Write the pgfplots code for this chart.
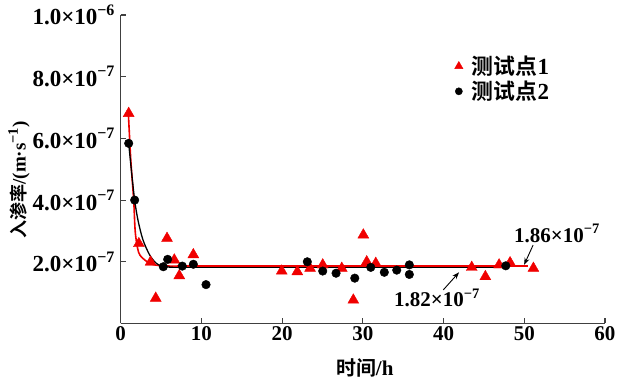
\documentclass[border=0pt]{standalone}
\usepackage{fontspec}
\setmainfont{Liberation Serif}
\newfontfamily\cjk{Noto Sans CJK SC}[BoldFont={Noto Sans CJK SC Bold},Scale=0.95]
\usepackage{pgfplots}
\pgfplotsset{compat=1.18}
\usetikzlibrary{arrows.meta}
\definecolor{axgray}{RGB}{64,64,64}
\definecolor{myred}{RGB}{240,0,0}
\newcommand{\bigf}{\fontsize{21}{25}\selectfont\bfseries}
\newcommand{\legf}{\fontsize{23}{27}\selectfont\bfseries}
\newcommand{\ytf}{\fontsize{23}{27}\selectfont\bfseries}
\newcommand{\labf}{\fontsize{19}{23}\selectfont\bfseries}
\newcommand{\sups}[1]{\raisebox{0.42em}{\fontsize{14.5}{15}\selectfont\bfseries #1}}
\newcommand{\ysups}[1]{\raisebox{0.42em}{\fontsize{16}{17}\selectfont\bfseries #1}}
\newcommand{\yl}[2]{#1×10\ysups{−#2}}
\begin{document}
\begin{tikzpicture}
\useasboundingbox (-120.7pt,-61.5pt) rectangle (501.3pt,323.5pt);
\begin{axis}[
  at={(0,0)}, anchor=south west, scale only axis,
  width=484.3pt, height=308.5pt,
  xmin=0, xmax=60, ymin=0, ymax=10,
  clip=false,
  axis x line*=bottom, axis y line*=left,
  axis line style={axgray, line width=1.3pt},
  tick align=inside, major tick length=5pt,
  tick style={axgray, line width=1.1pt},
  xtick={0,10,20,30,40,50,60},
  xticklabels={0\hspace{16pt},10,20,30,40,50,60},
  ytick={2,4,6,8,10},
  yticklabels={\yl{2.0}{7},\yl{4.0}{7},\yl{6.0}{7},\yl{8.0}{7},\yl{1.0}{6}},
  xticklabel style={font=\bigf},
  yticklabel style={font=\ytf, inner sep=0pt, anchor=east, xshift=-6pt},
  xlabel={{\cjk\bfseries 时间}/h},
  ylabel={{\cjk\bfseries 入渗率}/(m·s\sups{−1})},
  xlabel style={at={(axis description cs:0.504,-0.144)}, anchor=center, font=\bigf},
  ylabel style={at={(axis description cs:-0.21,0.465)}, anchor=center, font=\labf},
  legend style={draw=none, fill=none, at={(axis description cs:0.683,0.88)}, anchor=north west,
    font=\legf, row sep=1pt, cells={anchor=west}},
]
% fitted curves
\addplot[myred, line width=1.6pt, smooth, forget plot] coordinates {
(0.95,6.81) (1.25,5.30) (1.61,4.00) (1.81,2.95) (2.23,2.30) (2.97,2.06) (3.79,1.93) (5.03,1.87) (7.0,1.86)};
\addplot[myred, line width=1.6pt, forget plot] coordinates {(7.0,1.86) (50.5,1.86)};
\addplot[black, line width=1.3pt, smooth, forget plot] coordinates {
(0.99,5.84) (1.35,4.90) (1.73,4.00) (2.14,3.35) (2.76,2.71) (3.59,2.22) (4.41,1.95) (5.24,1.85) (6.5,1.82)};
\addplot[black, line width=1.3pt, forget plot] coordinates {(6.5,1.82) (47.7,1.82)};
% test point 1
\addplot[only marks, mark=triangle*, mark size=6.3pt, color=myred, mark options={fill=myred},
  legend image post style={mark size=4.8pt}] coordinates {
(0.99,6.81) (2.25,2.59) (3.70,1.99) (5.74,2.76) (4.34,0.82) (6.64,2.06) (7.26,1.55) (9.00,2.23)
(19.95,1.70) (21.88,1.68) (23.46,1.79) (25.03,1.90) (27.39,1.79) (28.82,0.76) (30.06,2.87)
(30.48,2.00) (31.60,1.95) (43.49,1.82) (45.18,1.52) (46.88,1.90) (48.24,1.97) (51.13,1.79)};
\addlegendentry{\hspace{7pt}{\cjk\bfseries 测试点}1}
% test point 2
\addplot[only marks, mark=*, mark size=4.3pt, color=black,
  legend image post style={mark size=3.6pt}] coordinates {
(0.99,5.84) (1.73,4.00) (5.28,1.84) (5.82,2.08) (7.63,1.86) (9.00,1.92) (10.57,1.26)
(23.12,2.00) (25.03,1.70) (26.68,1.63) (29.00,1.47) (30.98,1.82) (32.66,1.66) (34.20,1.73)
(35.76,1.90) (35.76,1.59) (47.71,1.87)};
\addlegendentry{\hspace{7pt}{\cjk\bfseries 测试点}2}
% annotations
\node[font=\bigf] at (axis cs:54.03,2.92) {1.86×10\sups{−7}};
\draw[-{Stealth[length=7pt,width=5pt]}, line width=0.9pt] (axis cs:51.09,2.54) -- (axis cs:49.98,1.90);
\node[font=\bigf] at (axis cs:39.16,0.83) {1.82×10\sups{−7}};
\draw[-{Stealth[length=7pt,width=5pt]}, line width=0.9pt] (axis cs:39.97,1.09) -- (axis cs:41.92,1.66);
\end{axis}
\end{tikzpicture}
\end{document}
